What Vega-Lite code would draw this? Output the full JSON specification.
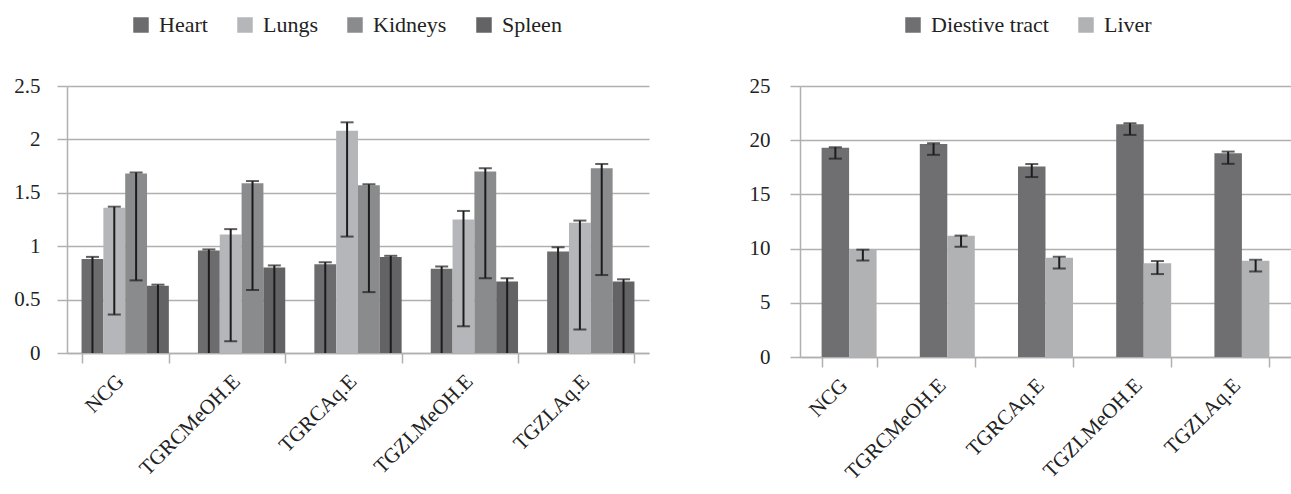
{
  "$schema": "https://vega.github.io/schema/vega-lite/v6.json",
  "background": "white",
  "padding": {"left": 13, "top": 14, "right": 0, "bottom": 0},
  "config": {
    "view": {"stroke": null},
    "font": "Liberation Serif",
    "text": {"font": "Liberation Serif"},
    "axis": {
      "labelFont": "Liberation Serif",
      "labelColor": "#222222",
      "domainColor": "#b0b0b0",
      "domainWidth": 1.5,
      "tickColor": "#b0b0b0",
      "tickWidth": 1.5,
      "gridColor": "#b0b0b0",
      "gridWidth": 1.5,
      "title": null
    },
    "legend": {
      "labelFont": "Liberation Serif",
      "labelFontSize": 22,
      "labelColor": "#222222",
      "symbolType": "square",
      "symbolSize": 240,
      "symbolStrokeWidth": 0,
      "labelOffset": 7,
      "columnPadding": 26,
      "direction": "horizontal",
      "orient": "none",
      "title": null
    }
  },
  "datasets": {
    "organs": [
      {"group": "NCG", "organ": "Heart", "value": 0.88, "lo": 0, "hi": 0.9},
      {"group": "NCG", "organ": "Lungs", "value": 1.36, "lo": 0.36, "hi": 1.37},
      {"group": "NCG", "organ": "Kidneys", "value": 1.68, "lo": 0.68, "hi": 1.69},
      {"group": "NCG", "organ": "Spleen", "value": 0.63, "lo": 0, "hi": 0.64},
      {"group": "TGRCMeOH.E", "organ": "Heart", "value": 0.96, "lo": 0, "hi": 0.97},
      {"group": "TGRCMeOH.E", "organ": "Lungs", "value": 1.11, "lo": 0.11, "hi": 1.16},
      {"group": "TGRCMeOH.E", "organ": "Kidneys", "value": 1.59, "lo": 0.59, "hi": 1.61},
      {"group": "TGRCMeOH.E", "organ": "Spleen", "value": 0.8, "lo": 0, "hi": 0.82},
      {"group": "TGRCAq.E", "organ": "Heart", "value": 0.83, "lo": 0, "hi": 0.85},
      {"group": "TGRCAq.E", "organ": "Lungs", "value": 2.08, "lo": 1.09, "hi": 2.16},
      {"group": "TGRCAq.E", "organ": "Kidneys", "value": 1.57, "lo": 0.57, "hi": 1.58},
      {"group": "TGRCAq.E", "organ": "Spleen", "value": 0.9, "lo": 0, "hi": 0.91},
      {"group": "TGZLMeOH.E", "organ": "Heart", "value": 0.79, "lo": 0, "hi": 0.81},
      {"group": "TGZLMeOH.E", "organ": "Lungs", "value": 1.25, "lo": 0.25, "hi": 1.33},
      {"group": "TGZLMeOH.E", "organ": "Kidneys", "value": 1.7, "lo": 0.7, "hi": 1.73},
      {"group": "TGZLMeOH.E", "organ": "Spleen", "value": 0.67, "lo": 0, "hi": 0.7},
      {"group": "TGZLAq.E", "organ": "Heart", "value": 0.95, "lo": 0, "hi": 0.99},
      {"group": "TGZLAq.E", "organ": "Lungs", "value": 1.22, "lo": 0.22, "hi": 1.24},
      {"group": "TGZLAq.E", "organ": "Kidneys", "value": 1.73, "lo": 0.73, "hi": 1.77},
      {"group": "TGZLAq.E", "organ": "Spleen", "value": 0.67, "lo": 0, "hi": 0.69}
    ],
    "digestive": [
      {"group": "NCG", "organ": "Diestive tract", "value": 19.3, "lo": 18.3, "hi": 19.35},
      {"group": "NCG", "organ": "Liver", "value": 9.95, "lo": 8.9, "hi": 9.9},
      {"group": "TGRCMeOH.E", "organ": "Diestive tract", "value": 19.66, "lo": 18.65, "hi": 19.72},
      {"group": "TGRCMeOH.E", "organ": "Liver", "value": 11.18, "lo": 10.17, "hi": 11.2},
      {"group": "TGRCAq.E", "organ": "Diestive tract", "value": 17.57, "lo": 16.6, "hi": 17.8},
      {"group": "TGRCAq.E", "organ": "Liver", "value": 9.15, "lo": 8.17, "hi": 9.24},
      {"group": "TGZLMeOH.E", "organ": "Diestive tract", "value": 21.47, "lo": 20.49, "hi": 21.56},
      {"group": "TGZLMeOH.E", "organ": "Liver", "value": 8.66, "lo": 7.65, "hi": 8.85},
      {"group": "TGZLAq.E", "organ": "Diestive tract", "value": 18.8, "lo": 17.82, "hi": 18.95},
      {"group": "TGZLAq.E", "organ": "Liver", "value": 8.88, "lo": 7.89, "hi": 8.97}
    ]
  },
  "spacing": 100,
  "resolve": {
    "scale": {"color": "independent", "xOffset": "independent", "x": "independent", "y": "independent"},
    "legend": {"color": "independent"}
  },
  "hconcat": [
    {
      "width": 582,
      "height": 267,
      "data": {"name": "organs"},
      "encoding": {
        "x": {
          "field": "group",
          "type": "nominal",
          "sort": null,
          "scale": {"paddingInner": 0.25, "paddingOuter": 0.125},
          "axis": {
            "labelFont": "Liberation Serif",
            "labelAngle": -45,
            "labelAlign": "right",
            "labelBaseline": "middle",
            "labelFontSize": 21,
            "labelPadding": 15,
            "labelOffset": -5,
            "tickSize": 10,
            "tickBand": "extent",
            "grid": false
          }
        },
        "xOffset": {
          "field": "organ",
          "type": "nominal",
          "sort": ["Heart", "Lungs", "Kidneys", "Spleen"],
          "scale": {"padding": 0}
        }
      },
      "layer": [
        {
          "mark": {"type": "bar"},
          "encoding": {
            "y": {
              "field": "value",
              "type": "quantitative",
              "scale": {"domain": [0, 2.5], "nice": false},
              "axis": {
                "values": [0, 0.5, 1, 1.5, 2, 2.5],
                "format": "~g",
                "labelFont": "Liberation Serif",
                "labelFontSize": 21,
                "labelPadding": 17,
                "tickSize": 10,
                "grid": true
              }
            },
            "color": {
              "field": "organ",
              "type": "nominal",
              "scale": {
                "domain": ["Heart", "Lungs", "Kidneys", "Spleen"],
                "range": ["#6c6c6e", "#b5b6b9", "#8a8b8d", "#636365"]
              },
              "legend": {"legendX": 63, "legendY": -72, "labelFont": "Liberation Serif", "labelFontSize": 22}
            }
          }
        },
        {
          "mark": {"type": "rule", "color": "#1c1c1c", "strokeWidth": 2},
          "encoding": {
            "y": {"field": "lo", "type": "quantitative"},
            "y2": {"field": "hi"}
          }
        },
        {
          "mark": {"type": "tick", "color": "#1c1c1c", "thickness": 2, "size": 13},
          "encoding": {"y": {"field": "hi", "type": "quantitative"}}
        },
        {
          "transform": [{"filter": "datum.lo > 0"}],
          "mark": {"type": "tick", "color": "#1c1c1c", "thickness": 2, "size": 13},
          "encoding": {"y": {"field": "lo", "type": "quantitative"}}
        }
      ]
    },
    {
      "width": 491,
      "height": 271,
      "data": {"name": "digestive"},
      "encoding": {
        "x": {
          "field": "group",
          "type": "nominal",
          "sort": null,
          "scale": {"paddingInner": 0.44, "paddingOuter": 0.22},
          "axis": {
            "labelFont": "Liberation Serif",
            "labelAngle": -45,
            "labelAlign": "right",
            "labelBaseline": "middle",
            "labelFontSize": 21,
            "labelPadding": 15,
            "labelOffset": -5,
            "tickSize": 10,
            "tickBand": "extent",
            "grid": false
          }
        },
        "xOffset": {
          "field": "organ",
          "type": "nominal",
          "sort": ["Diestive tract", "Liver"],
          "scale": {"padding": 0}
        }
      },
      "layer": [
        {
          "mark": {"type": "bar"},
          "encoding": {
            "y": {
              "field": "value",
              "type": "quantitative",
              "scale": {"domain": [0, 25], "nice": false},
              "axis": {
                "values": [0, 5, 10, 15, 20, 25],
                "labelFont": "Liberation Serif",
                "labelFontSize": 21,
                "labelPadding": 20,
                "tickSize": 10,
                "grid": true
              }
            },
            "color": {
              "field": "organ",
              "type": "nominal",
              "scale": {
                "domain": ["Diestive tract", "Liver"],
                "range": ["#6f6f71", "#b1b2b4"]
              },
              "legend": {"legendX": 102, "legendY": -72, "labelFont": "Liberation Serif", "labelFontSize": 22}
            }
          }
        },
        {
          "mark": {"type": "rule", "color": "#1c1c1c", "strokeWidth": 2},
          "encoding": {
            "y": {"field": "lo", "type": "quantitative"},
            "y2": {"field": "hi"}
          }
        },
        {
          "mark": {"type": "tick", "color": "#1c1c1c", "thickness": 2, "size": 13},
          "encoding": {"y": {"field": "hi", "type": "quantitative"}}
        },
        {
          "mark": {"type": "tick", "color": "#1c1c1c", "thickness": 2, "size": 13},
          "encoding": {"y": {"field": "lo", "type": "quantitative"}}
        }
      ]
    }
  ]
}
